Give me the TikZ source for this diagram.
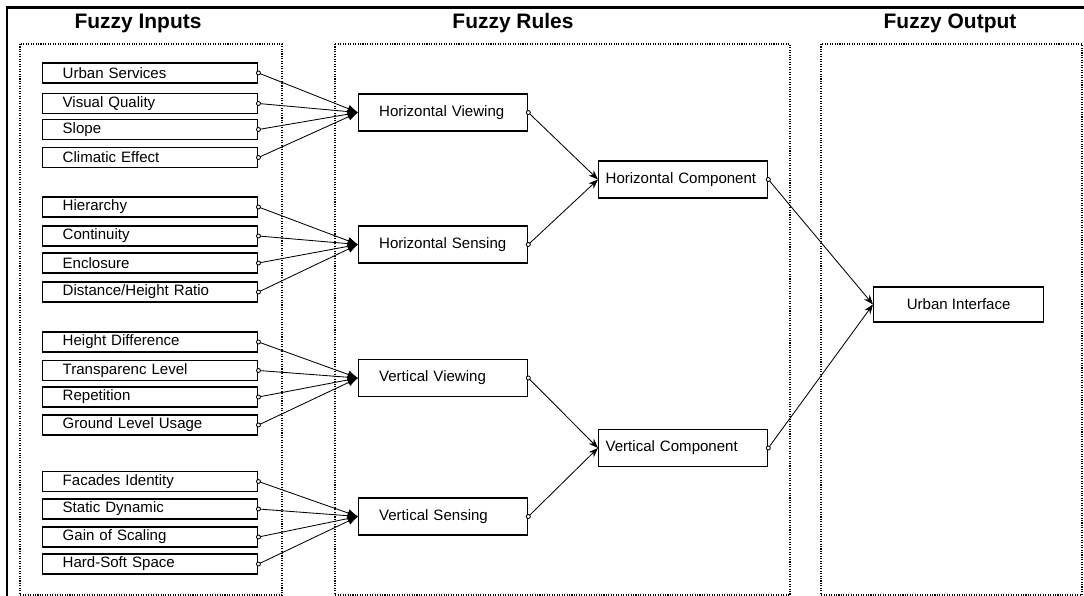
\documentclass[tikz,border=0pt]{standalone}
\usepackage{fontspec}
\setmainfont{Liberation Sans}
\usetikzlibrary{arrows.meta}

\tikzset{
  title/.style={font=\fontsize{14.9}{16}\selectfont\bfseries},
  frame/.style={densely dotted, line width=0.75pt},
  inbox/.style={draw, line width=1pt, anchor=west, minimum width=5.375cm, minimum height=0.5cm,
    inner xsep=0.5cm, inner ysep=0pt, text width=4.375cm, align=left, font=\fontsize{10.7}{12}\selectfont},
  rulebox/.style={draw, line width=0.9pt, anchor=west, minimum width=4.225cm, minimum height=0.925cm,
    inner xsep=0.5125cm, text width=3.2cm, align=left, font=\fontsize{10.7}{12}\selectfont},
  compbox/.style={rulebox, inner xsep=0.175cm, text width=3.875cm},
  outbox/.style={draw, line width=0.9pt, anchor=west, minimum width=4.25cm, minimum height=0.875cm,
    align=center, font=\fontsize{10.7}{12}\selectfont},
  feed/.style={line width=0.6pt, -{Latex[length=0.26cm,width=0.2cm]}},
  pass/.style={line width=0.6pt, -{Stealth[length=0.24cm,width=0.18cm]}},
  pin/.style={line width=0.6pt, fill=white}
}

\begin{document}
\begin{tikzpicture}[x=0.025cm,y=-0.025cm]
\useasboundingbox (0,0) rectangle (1084,596);
\draw[line width=1.8pt] (7,596) -- (7,7.5) -- (1084,7.5);

% headings
\node[title] (tin) at (138,23) {Fuzzy Inputs};
\node[title] (trl) at (513,23) {Fuzzy Rules};
\node[title] (tout) at (950,23) {Fuzzy Output};

% dotted frames
\draw[frame] (20,44) rectangle (282,595);
\draw[frame] (335,44) rectangle (790,595);
\draw[frame] (821,44) rectangle (1082,595);

% inputs
\node[inbox] (us) at (42,73) {Urban Services};
\node[inbox] (vq) at (42,103.5) {Visual Quality};
\node[inbox] (sl) at (42,129.5) {Slope};
\node[inbox] (ce) at (42,157.5) {Climatic Effect};

\node[inbox] (hi) at (42,207) {Hierarchy};
\node[inbox] (co) at (42,236) {Continuity};
\node[inbox] (en) at (42,263) {Enclosure};
\node[inbox] (dh) at (42,292) {Distance/Height Ratio};

\node[inbox] (hd) at (42,342) {Height Difference};
\node[inbox] (tl) at (42,370.5) {Transparenc Level};
\node[inbox] (re) at (42,397) {Repetition};
\node[inbox] (gl) at (42,425) {Ground Level Usage};

\node[inbox] (fi) at (42,481.5) {Facades Identity};
\node[inbox] (sd) at (42,509) {Static Dynamic};
\node[inbox] (gs) at (42,537) {Gain of Scaling};
\node[inbox] (hs) at (42,564) {Hard-Soft Space};

% rules
\node[rulebox] (hview) at (358,112.5) {Horizontal Viewing};
\node[rulebox] (hsens) at (358,244.5) {Horizontal Sensing};
\node[rulebox] (vview) at (358,378) {Vertical Viewing};
\node[rulebox] (vsens) at (358,516.5) {Vertical Sensing};

\node[compbox] (hcomp) at (598,179.5) {Horizontal Component};
\node[compbox] (vcomp) at (598,448) {Vertical Component};

% output
\node[outbox] (ui) at (873,304.5) {Urban Interface};

% connectors
\foreach \a in {us,vq,sl,ce} \draw[feed] (\a.east) -- (hview.west);
\foreach \a in {hi,co,en,dh} \draw[feed] (\a.east) -- (hsens.west);
\foreach \a in {hd,tl,re,gl} \draw[feed] (\a.east) -- (vview.west);
\foreach \a in {fi,sd,gs,hs} \draw[feed] (\a.east) -- (vsens.west);
\draw[pass] (hview.east) -- (hcomp.west);
\draw[pass] (hsens.east) -- (hcomp.west);
\draw[pass] (vview.east) -- (vcomp.west);
\draw[pass] (vsens.east) -- (vcomp.west);
\draw[pass] (hcomp.east) -- (ui.west);
\draw[pass] (vcomp.east) -- (ui.west);

% small pins on the outlets
\foreach \a in {us,vq,sl,ce,hi,co,en,dh,hd,tl,re,gl,fi,sd,gs,hs,hview,hsens,vview,vsens,hcomp,vcomp}
  \draw[pin] (\a.east) circle (0.05cm);
\end{tikzpicture}
\end{document}
